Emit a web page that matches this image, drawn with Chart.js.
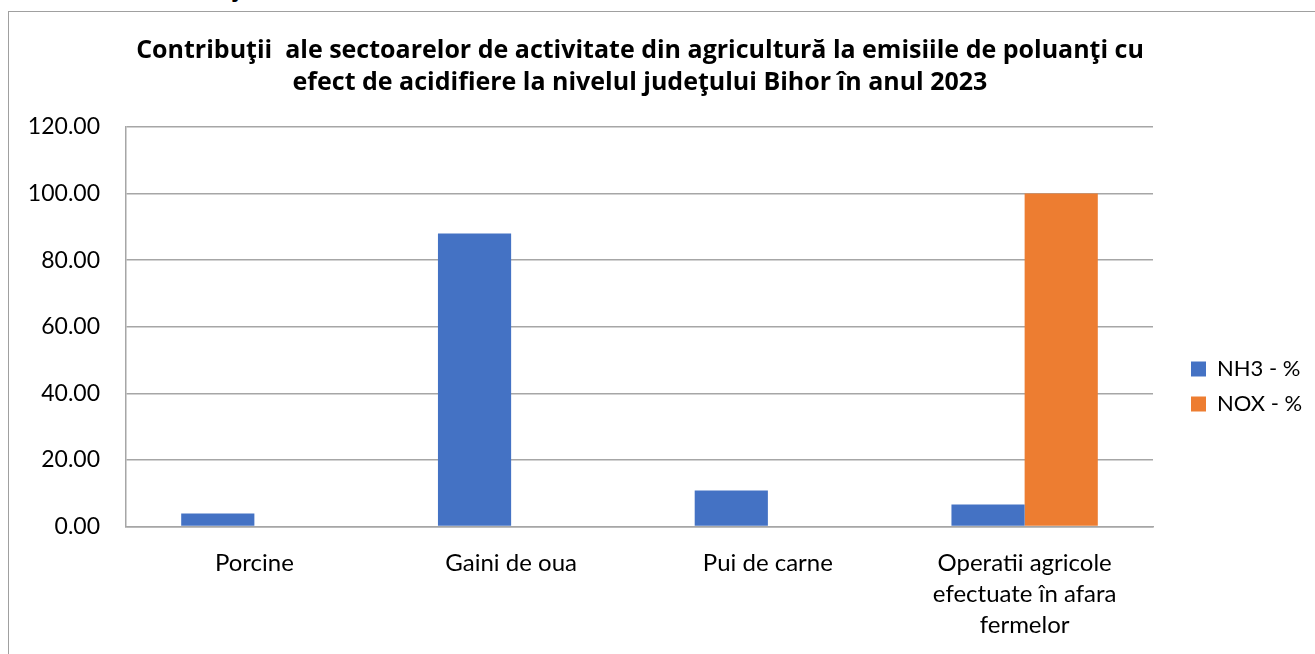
<!DOCTYPE html>
<html>
<head>
<meta charset="utf-8">
<script src="https://cdn.jsdelivr.net/npm/chart.js@4.4.0/dist/chart.umd.min.js"></script>
<style>
  body { margin: 0; background: #fff; overflow: hidden; }
  #box { position: absolute; left: 8px; top: 11px; width: 1320px; height: 660px; border: 1px solid #a0a0a0; }
  #chart { position: absolute; left: 0; top: 0; }
  #cut { position: absolute; left: 229px; top: -26px; font: bold 25px/25px "Open Sans"; color: #000; }
</style>
</head>
<body>
<div id="cut">ţ</div>
<div id="box"><canvas id="chart" width="1306" height="642"></canvas></div>
<script>
const ctx = document.querySelector("#chart");

const categories = ["Porcine", "Gaini de oua", "Pui de carne", ["Operatii agricole", "efectuate în afara", "fermelor"]];
const nh3Values = [3.9, 88.0, 10.8, 6.6];
const noxValues = [0, 0, 0, 100.0];
const yTicks = [0, 20, 40, 60, 80, 100, 120];

// place legend + title like the original (Excel style)
const placeBoxes = {
    id: "placeBoxes",
    beforeLayout(chart) {
        const lg = chart.legend;
        if (lg && !lg._patched) {
            const fit = lg.fit;
            lg.fit = function () { fit.call(this); this.width = 162; };
            lg._patched = true;
        }
    },
    beforeDraw(chart) {
        const lg = chart.legend;
        const w = lg.width, h = lg.height;
        lg.left = 1182 - 13; lg.right = lg.left + w;
        lg.top = 357 - 13 - 11; lg.bottom = lg.top + h;
        const t = chart.titleBlock;
        t.left -= 22; t.right -= 22;
    },
};

const config = {
    type: "bar",
    data: {
        labels: categories,
        datasets: [
            { label: "NH3 - %", data: nh3Values, backgroundColor: "#4472C4" },
            { label: "NOX - %", data: noxValues, backgroundColor: "#ED7D31" },
        ],
    },
    options: {
        responsive: false,
        animation: false,
        barPercentage: 1,
        categoryPercentage: 0.57,
        layout: { padding: { left: 0, right: 0, top: 0, bottom: 0 } },
        plugins: {
            title: {
                display: true,
                text: ["Contribuţii  ale sectoarelor de activitate din agricultură la emisiile de poluanţi cu", "efect de acidifiere la nivelul judeţului Bihor în anul 2023"],
                color: "#000",
                font: { family: "Open Sans", size: 25, weight: "bold", lineHeight: 1.28 },
                padding: { top: 23, bottom: 28 },
            },
            legend: {
                position: "right",
                align: "start",
                labels: {
                    color: "#000",
                    font: { family: "Lato", size: 22 },
                    boxWidth: 15,
                    boxHeight: 15,
                    padding: 13,
                },
            },
            tooltip: { enabled: false },
        },
        scales: {
            x: {
                afterFit: (axis) => { axis.height -= 8; },
                grid: { display: false, drawTicks: false },
                border: { color: "#a6a6a6", width: 1.5 },
                ticks: { color: "#000", font: { family: "Lato", size: 24, lineHeight: 1.3 }, padding: 21, maxRotation: 0 },
            },
            y: {
                min: 0,
                max: 120,
                afterBuildTicks: (axis) => { axis.ticks = yTicks.map(v => ({ value: v })); },
                afterFit: (axis) => { axis.width = 117; },
                grid: { color: "#a6a6a6", lineWidth: 1.5, drawTicks: false },
                border: { color: "#a6a6a6", width: 1.5 },
                ticks: { color: "#000", font: { family: "Lato", size: 23 }, padding: 26, callback: v => v.toFixed(2) },
            },
        },
    },
    plugins: [placeBoxes],
};

new Chart(ctx, config);
</script>
</body>
</html>
